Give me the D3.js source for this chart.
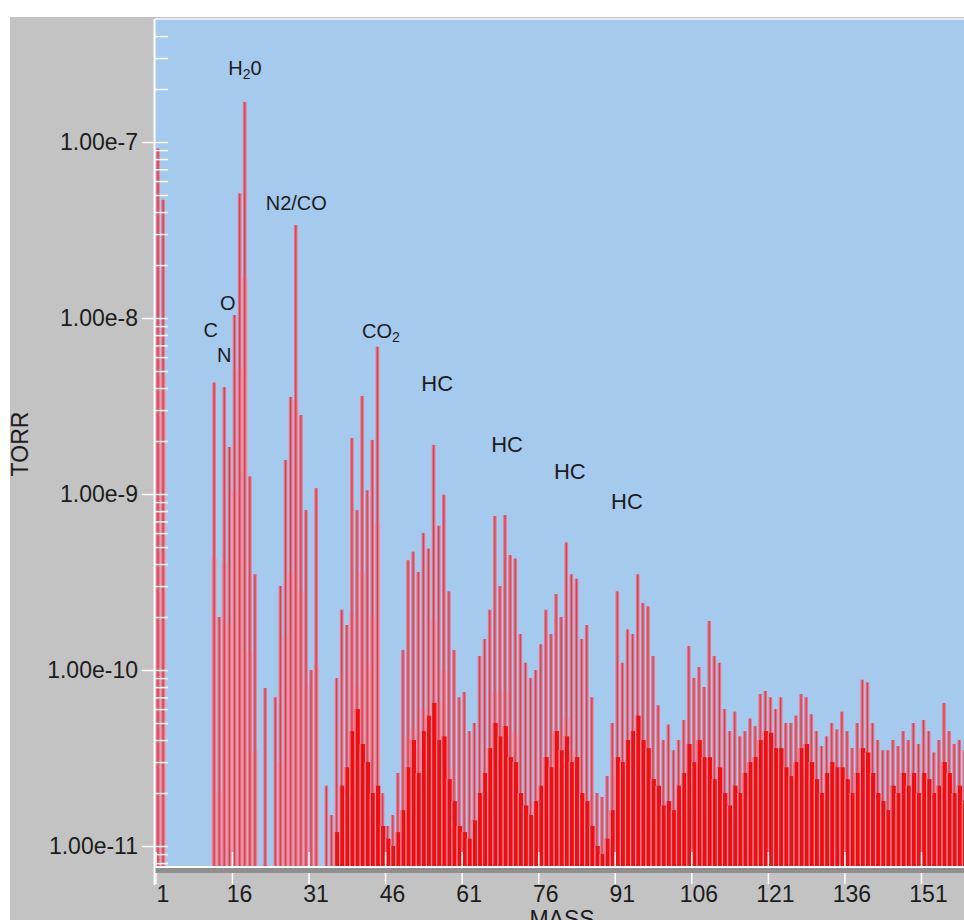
<!DOCTYPE html>
<html>
<head>
<meta charset="utf-8">
<script src="https://cdn.jsdelivr.net/npm/d3@7/dist/d3.min.js"></script>
<style>
body { margin: 0; background: #fff; }
text { font-family: "Liberation Sans", Arial, sans-serif; fill: #1c1c1c; }
</style>
</head>
<body>
<svg id="svg"></svg>
<script>
var width = 964, height = 920;

// mass 1..159, one reading per amu (0 = below the scale)
var masses = d3.range(1, 160);
var peaks = [
	9.2e-8, 4.7e-8, 0, 0, 0, 0, 0, 0, 0, 0,
	0, 4.3e-9, 2e-10, 4.05e-9, 1.85e-9, 1.04e-8, 5.1e-8, 1.69e-7, 1.26e-9, 3.5e-10,
	0, 7.9e-11, 0, 7e-11, 3e-10, 1.56e-9, 3.56e-9, 3.37e-8, 2.81e-9, 8.1e-10,
	1e-10, 1.08e-9, 0, 2.2e-11, 1.5e-11, 9e-11, 2.2e-10, 1.8e-10, 2.08e-9, 8.1e-10,
	3.6e-9, 1.05e-9, 2.03e-9, 6.87e-9, 2e-11, 1.3e-11, 1.5e-11, 2.6e-11, 1.3e-10, 4.2e-10,
	4.7e-10, 3.6e-10, 6e-10, 4.9e-10, 1.9e-9, 6.6e-10, 9.9e-10, 2.8e-10, 1.3e-10, 7e-11,
	7.5e-11, 4.5e-11, 5e-11, 1.2e-10, 1.5e-10, 2.2e-10, 7.5e-10, 3e-10, 7.6e-10, 4.5e-10,
	4.3e-10, 1.6e-10, 1.1e-10, 9e-11, 1e-10, 1.4e-10, 2.2e-10, 1.6e-10, 2.7e-10, 2e-10,
	5.3e-10, 3.5e-10, 3.3e-10, 1.5e-10, 1.8e-10, 7e-11, 2e-11, 1.9e-11, 2.5e-11, 5e-11,
	2.8e-10, 1.1e-10, 1.7e-10, 1.6e-10, 3.5e-10, 2.4e-10, 2.3e-10, 1.2e-10, 6.3e-11, 4e-11,
	4.9e-11, 3.5e-11, 4e-11, 5.2e-11, 1.37e-10, 9e-11, 1.04e-10, 8e-11, 1.9e-10, 1.2e-10,
	1.1e-10, 6e-11, 4.5e-11, 5.8e-11, 4.2e-11, 4.5e-11, 5.3e-11, 4.8e-11, 7.3e-11, 7.6e-11,
	7e-11, 6e-11, 7e-11, 5e-11, 5e-11, 5.5e-11, 7.3e-11, 7e-11, 5.6e-11, 4.5e-11,
	3.7e-11, 4.2e-11, 5e-11, 4.6e-11, 5.8e-11, 4.5e-11, 3.6e-11, 5e-11, 8.8e-11, 8.5e-11,
	5e-11, 4e-11, 3.5e-11, 3.5e-11, 4e-11, 3.7e-11, 4.5e-11, 4e-11, 5e-11, 3.8e-11,
	5.2e-11, 4.5e-11, 3.4e-11, 4e-11, 6.5e-11, 4.5e-11, 3.8e-11, 4e-11, 3.5e-11
];
// solid red background level under the peaks
var floors = [
	0, 0, 0, 0, 0, 0, 0, 0, 0, 0,
	0, 0, 0, 0, 0, 0, 0, 0, 0, 0,
	0, 0, 0, 0, 0, 0, 0, 0, 0, 0,
	0, 0, 0, 0, 0, 1.2e-11, 2.2e-11, 2.8e-11, 4.5e-11, 6e-11,
	3.8e-11, 3e-11, 2e-11, 2.2e-11, 1.3e-11, 1.1e-11, 1e-11, 1.2e-11, 1.6e-11, 2.8e-11,
	4e-11, 2.6e-11, 4.5e-11, 5.5e-11, 6.5e-11, 4e-11, 4.2e-11, 2.4e-11, 1.8e-11, 1.3e-11,
	1.2e-11, 1.1e-11, 1.4e-11, 2e-11, 2.6e-11, 3.6e-11, 5e-11, 4.2e-11, 4.8e-11, 3.2e-11,
	3e-11, 2e-11, 1.7e-11, 1.5e-11, 1.8e-11, 2.2e-11, 3.2e-11, 2.8e-11, 4.5e-11, 3.5e-11,
	4.2e-11, 3e-11, 3.2e-11, 2e-11, 1.8e-11, 1.3e-11, 1e-11, 9e-12, 1.1e-11, 1.6e-11,
	3.2e-11, 3e-11, 4e-11, 4.5e-11, 5.5e-11, 4e-11, 3.6e-11, 2.4e-11, 2.2e-11, 1.7e-11,
	1.8e-11, 1.6e-11, 2.2e-11, 2.6e-11, 3.8e-11, 3e-11, 4e-11, 3.2e-11, 3.2e-11, 2.4e-11,
	2.8e-11, 2e-11, 1.7e-11, 2.2e-11, 2e-11, 2.6e-11, 3e-11, 3.2e-11, 4e-11, 4.5e-11,
	4.4e-11, 3.6e-11, 3.6e-11, 2.8e-11, 2.5e-11, 3e-11, 3.6e-11, 3.8e-11, 3e-11, 2.4e-11,
	2e-11, 2.6e-11, 3e-11, 2.8e-11, 2.8e-11, 2.4e-11, 2e-11, 2.6e-11, 3.6e-11, 3.4e-11,
	2.6e-11, 2e-11, 1.8e-11, 1.6e-11, 2.2e-11, 2e-11, 2.6e-11, 2.2e-11, 2.6e-11, 2e-11,
	2.6e-11, 2.4e-11, 2e-11, 2.2e-11, 3e-11, 2.6e-11, 2e-11, 2.2e-11, 1.8e-11
];
var xTicks = [1, 16, 31, 46, 61, 76, 91, 106, 121, 136, 151];
var yTicks = [1e-7, 1e-8, 1e-9, 1e-10, 1e-11];

// peak labels, anchored at a mass and a pressure
var notes = [
	{parts: ["H", "2", "0"], mass: 18.55, torr: 2.4e-7, size: 20},
	{parts: ["N2/CO"], mass: 28.6, torr: 4.1e-8, size: 20},
	{parts: ["O"], mass: 15.2, torr: 1.11e-8, size: 20},
	{parts: ["C"], mass: 11.85, torr: 7.8e-9, size: 20},
	{parts: ["N"], mass: 14.5, torr: 5.6e-9, size: 20},
	{parts: ["CO", "2"], mass: 45.2, torr: 7.7e-9, size: 20},
	{parts: ["HC"], mass: 56.2, torr: 3.85e-9, size: 22},
	{parts: ["HC"], mass: 69.9, torr: 1.73e-9, size: 22},
	{parts: ["HC"], mass: 82.2, torr: 1.22e-9, size: 22},
	{parts: ["HC"], mass: 93.4, torr: 8.2e-10, size: 22}
];

var svg = d3.select("#svg")
	.attr("width", width)
	.attr("height", height);

var plotLeft = 155, plotTop = 19, plotBottom = 867;

var x = d3.scaleLinear()
	.domain([1, 161])
	.range([155.4, 155.4 + 160 * 5.104]);

var y = d3.scaleLog()
	.domain([5e-7, 7.6e-12])
	.range([plotTop, plotBottom]);

// grey panel and blue plot area
svg.append("rect")
	.attr("x", 10).attr("y", 17)
	.attr("width", width - 10).attr("height", height - 17)
	.attr("fill", "#c3c3c3");

svg.append("rect")
	.attr("x", plotLeft).attr("y", plotTop)
	.attr("width", width - plotLeft).attr("height", plotBottom - plotTop)
	.attr("fill", "#a6c9ee");

svg.append("clipPath").attr("id", "clip")
	.append("rect")
	.attr("x", plotLeft).attr("y", plotTop)
	.attr("width", width - plotLeft).attr("height", plotBottom - plotTop);

var data = masses.map(function(m, i) {
	return {mass: m, peak: peaks[i], floor: floors[i]};
});
var shown = data.filter(function(d) { return d.peak > 0; });

var g = svg.append("g").attr("clip-path", "url(#clip)");

// pale skirt on the lower part of each peak
g.selectAll(".halo")
	.data(shown)
	.enter().append("rect")
	.attr("class", "halo")
	.attr("x", function(d) { return x(d.mass - 0.05); })
	.attr("width", x(2.1) - x(1))
	.attr("y", function(d) { return y(d.peak * 0.1); })
	.attr("height", function(d) { return Math.max(0, plotBottom - y(d.peak * 0.1)); })
	.attr("fill", "#f29aaa")
	.attr("opacity", 0.75);

g.selectAll(".peak")
	.data(shown)
	.enter().append("rect")
	.attr("class", "peak")
	.attr("x", function(d) { return x(d.mass + 0.15); })
	.attr("width", x(1.7) - x(1))
	.attr("y", function(d) { return y(d.peak); })
	.attr("height", function(d) { return plotBottom - y(d.peak); })
	.attr("fill", "#ee7082");

g.selectAll(".floor")
	.data(data.filter(function(d) { return d.floor > 0; }))
	.enter().append("rect")
	.attr("class", "floor")
	.attr("x", function(d) { return x(d.mass); })
	.attr("width", x(2) - x(1) + 0.3)
	.attr("y", function(d) { return y(d.floor); })
	.attr("height", function(d) { return plotBottom - y(d.floor); })
	.attr("fill", "#fb0c0c");

// light stripe between neighbouring peaks, drawn over the red
g.selectAll(".stripe")
	.data(data.filter(function(d) { return d.floor > 0; }))
	.enter().append("line")
	.attr("class", "stripe")
	.attr("x1", function(d) { return x(d.mass + 0.1); })
	.attr("x2", function(d) { return x(d.mass + 0.1); })
	.attr("y1", function(d) { return y(d.floor); })
	.attr("y2", plotBottom)
	.attr("stroke", "#f28a9a")
	.attr("stroke-width", 1.3);

g.selectAll(".core")
	.data(shown)
	.enter().append("line")
	.attr("class", "core")
	.attr("x1", function(d) { return x(d.mass + 0.5); })
	.attr("x2", function(d) { return x(d.mass + 0.5); })
	.attr("y1", function(d) { return y(d.peak); })
	.attr("y2", plotBottom)
	.attr("stroke", "#a4283c")
	.attr("stroke-width", 1.2)
	.attr("opacity", 0.55);

// axes
var minor = [];
[-12, -11, -10, -9, -8, -7].forEach(function(e) {
	d3.range(2, 10).forEach(function(k) {
		var v = k * Math.pow(10, e);
		if (v > 7.6e-12 && v < 5e-7) minor.push(v);
	});
});

svg.append("g")
	.attr("transform", "translate(" + plotLeft + ",0)")
	.call(d3.axisLeft(y).tickValues(minor).tickFormat("").tickSize(-13))
	.call(function(a) {
		a.select(".domain").remove();
		a.selectAll("line").attr("stroke", "#fff").attr("stroke-width", 1.5);
	});

var yAxis = svg.append("g")
	.attr("transform", "translate(" + plotLeft + ",0)")
	.call(d3.axisLeft(y).tickValues(yTicks).tickFormat(d3.format(".2e")).tickSize(13).tickPadding(4));
yAxis.select(".domain").remove();
yAxis.selectAll("line").attr("x1", 13).attr("stroke", "#fff").attr("stroke-width", 1.5);
yAxis.selectAll("text").attr("font-size", "23px").attr("fill", "#1c1c1c")
	.attr("font-family", "'Liberation Sans', Arial, sans-serif");

var xAxis = svg.append("g")
	.attr("transform", "translate(0," + (plotBottom - 15) + ")")
	.call(d3.axisBottom(x).tickValues(xTicks).tickSize(32));
xAxis.select(".domain").remove();
xAxis.selectAll("line").attr("stroke", "#fff").attr("stroke-width", 1.5);
xAxis.selectAll("text")
	.attr("y", 50).attr("dy", 0).attr("dx", 7)
	.attr("font-size", "23px").attr("fill", "#1c1c1c")
	.attr("font-family", "'Liberation Sans', Arial, sans-serif");

// axis frame: white lines plus grey shadow under the baseline
svg.append("rect")
	.attr("x", plotLeft).attr("y", plotBottom + 1)
	.attr("width", width - plotLeft).attr("height", 5)
	.attr("fill", "#8f8f8f");
svg.append("line")
	.attr("x1", plotLeft).attr("x2", width)
	.attr("y1", plotBottom).attr("y2", plotBottom)
	.attr("stroke", "#fff").attr("stroke-width", 2);
svg.append("line")
	.attr("x1", plotLeft - 0.5).attr("x2", plotLeft - 0.5)
	.attr("y1", plotTop).attr("y2", plotBottom + 18)
	.attr("stroke", "#fff").attr("stroke-width", 2);
svg.append("line")
	.attr("x1", plotLeft).attr("x2", width)
	.attr("y1", plotTop).attr("y2", plotTop)
	.attr("stroke", "#f4f4f4").attr("stroke-width", 1.5);

// titles
svg.append("text")
	.attr("transform", "translate(28,444) rotate(-90)")
	.attr("text-anchor", "middle")
	.attr("font-size", "23px")
	.text("TORR");

svg.append("text")
	.attr("x", 562).attr("y", 927)
	.attr("text-anchor", "middle")
	.attr("font-size", "23px")
	.text("MASS");

// peak labels
var lab = svg.selectAll(".note")
	.data(notes)
	.enter().append("text")
	.attr("class", "note")
	.attr("x", function(d) { return x(d.mass); })
	.attr("y", function(d) { return y(d.torr); })
	.attr("text-anchor", "middle")
	.attr("font-size", function(d) { return d.size + "px"; });

lab.each(function(d) {
	var t = d3.select(this);
	d.parts.forEach(function(p, i) {
		var sub = i % 2 === 1;
		t.append("tspan")
			.attr("font-size", sub ? (d.size * 0.7) + "px" : null)
			.attr("dy", sub ? 4 : (i > 0 ? -4 : 0))
			.text(p);
	});
});
</script>
</body>
</html>
